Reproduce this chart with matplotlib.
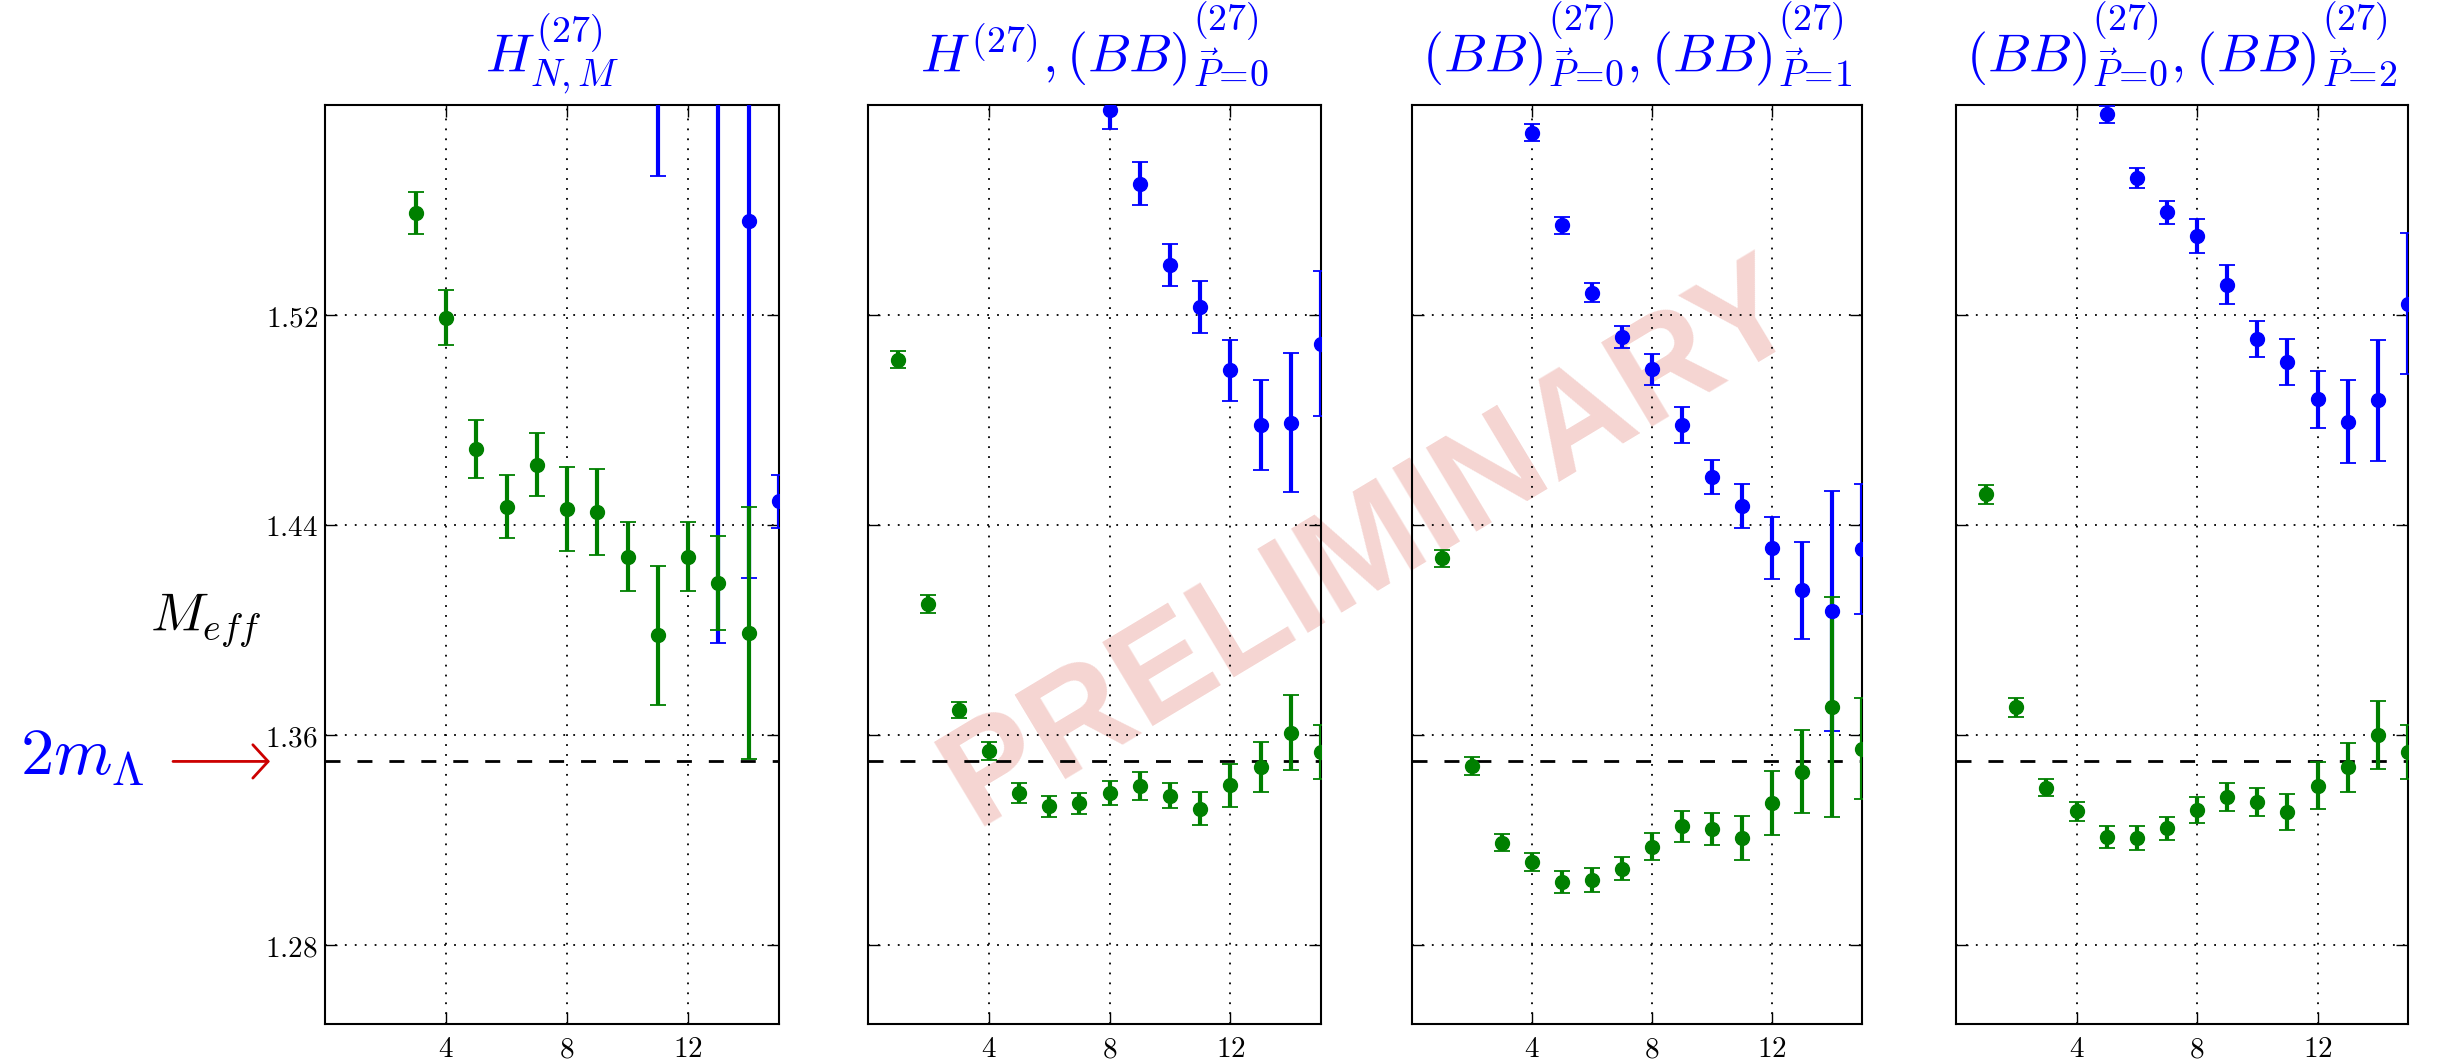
import numpy as np
import matplotlib
matplotlib.use('Agg')
import matplotlib.pyplot as plt
from matplotlib.ticker import FuncFormatter

plt.rcParams['mathtext.fontset'] = 'cm'

# ---------------- data ----------------
M2L = 1.35  # 2 m_Lambda

titles = [r'$H^{(27)}_{N,M}$',
          r'$H^{(27)}, (BB)^{(27)}_{\vec{P}\!=\!0}$',
          r'$(BB)^{(27)}_{\vec{P}\!=\!0}, (BB)^{(27)}_{\vec{P}\!=\!1}$',
          r'$(BB)^{(27)}_{\vec{P}\!=\!0}, (BB)^{(27)}_{\vec{P}\!=\!2}$']

xticks = [4, 8, 12]
yticks = [1.28, 1.36, 1.44, 1.52]

# panel 1
g1_t = [3, 4, 5, 6, 7, 8, 9, 10, 11, 12, 13, 14]
g1_y = [1.559, 1.519, 1.469, 1.447, 1.463, 1.446, 1.445, 1.428, 1.398, 1.428, 1.418, 1.399]
g1_e = [0.008, 0.0105, 0.011, 0.012, 0.012, 0.016, 0.0165, 0.013, 0.0265, 0.013, 0.018, 0.048]
b1_t = [11, 13, 14, 15]
b1_y = [1.66, 1.68, 1.556, 1.449]
b1_e = [0.087, 0.285, 0.136, 0.010]

# panel 2
g2_t = [1, 2, 3, 4, 5, 6, 7, 8, 9, 10, 11, 12, 13, 14, 15]
g2_y = [1.503, 1.410, 1.3695, 1.354, 1.338, 1.333, 1.334, 1.338, 1.3405, 1.337, 1.332, 1.341, 1.348, 1.361, 1.3535]
g2_e = [0.0033, 0.0035, 0.0031, 0.0035, 0.0039, 0.004, 0.004, 0.0046, 0.0053, 0.0049, 0.0064, 0.0082, 0.0095, 0.0144, 0.0103]
b2_t = [8, 9, 10, 11, 12, 13, 14, 15]
b2_y = [1.598, 1.570, 1.539, 1.523, 1.499, 1.478, 1.479, 1.509]
b2_e = [0.0072, 0.0082, 0.008, 0.0099, 0.0116, 0.0171, 0.0265, 0.0276]

# panel 3
g3_t = [1, 2, 3, 4, 5, 6, 7, 8, 9, 10, 11, 12, 13, 14, 15]
g3_y = [1.4274, 1.3482, 1.3191, 1.3117, 1.304, 1.3047, 1.3091, 1.3176, 1.3253, 1.3243, 1.3209, 1.3343, 1.3461, 1.3708, 1.3549]
g3_e = [0.0032, 0.0035, 0.0032, 0.0035, 0.0042, 0.0046, 0.0044, 0.0053, 0.0058, 0.006, 0.0084, 0.0122, 0.0158, 0.042, 0.0193]
b3_t = [4, 5, 6, 7, 8, 9, 10, 11, 12, 13, 14, 15]
b3_y = [1.5894, 1.5542, 1.5285, 1.5115, 1.4994, 1.4781, 1.4583, 1.4472, 1.4313, 1.4151, 1.4073, 1.4308]
b3_e = [0.0032, 0.0032, 0.0036, 0.0042, 0.0059, 0.0068, 0.0064, 0.0084, 0.0117, 0.0183, 0.0458, 0.0248]

# panel 4
g4_t = [1, 2, 3, 4, 5, 6, 7, 8, 9, 10, 11, 12, 13, 14, 15]
g4_y = [1.4518, 1.3706, 1.340, 1.331, 1.3212, 1.3207, 1.3245, 1.3315, 1.3366, 1.3346, 1.3307, 1.3407, 1.3477, 1.360, 1.3536]
g4_e = [0.0036, 0.0036, 0.0033, 0.0036, 0.0041, 0.0046, 0.0044, 0.0048, 0.0053, 0.0053, 0.0069, 0.009, 0.0093, 0.013, 0.0102]
b4_t = [5, 6, 7, 8, 9, 10, 11, 12, 13, 14, 15]
b4_y = [1.5964, 1.5722, 1.5591, 1.5501, 1.5316, 1.511, 1.502, 1.4879, 1.4794, 1.4876, 1.5244]
b4_e = [0.0031, 0.0037, 0.0044, 0.0063, 0.0073, 0.0068, 0.0087, 0.0108, 0.0157, 0.023, 0.0269]

panels = [
    (g1_t, g1_y, g1_e, b1_t, b1_y, b1_e),
    (g2_t, g2_y, g2_e, b2_t, b2_y, b2_e),
    (g3_t, g3_y, g3_e, b3_t, b3_y, b3_e),
    (g4_t, g4_y, g4_e, b4_t, b4_y, b4_e),
]

# ---------------- layout ----------------
W, H = 2446, 1060
fig = plt.figure(figsize=(W / 100, H / 100), dpi=100)
fig.patch.set_facecolor('white')

lefts = [325, 868, 1412, 1956]
widths = [454, 453, 450, 452]
top_px, bot_px = 105, 1024

GREEN = '#008000'
BLUE = '#0000ff'

axes = []
for i, (gt, gy, ge, bt, by, be) in enumerate(panels):
    rect = (lefts[i] / W, 1 - bot_px / H, widths[i] / W, (bot_px - top_px) / H)
    ax = fig.add_axes(rect)
    ax.set_facecolor('none')
    ekw = dict(fmt='o', ms=10, elinewidth=3, capsize=5.8, capthick=1.3, zorder=3)
    ax.errorbar(bt, by, yerr=be, color=BLUE, mfc=BLUE, mec=BLUE, ecolor=BLUE, **ekw)
    ax.errorbar(gt, gy, yerr=ge, color=GREEN, mfc=GREEN, mec=GREEN, ecolor=GREEN, **ekw)
    ax.axhline(M2L, color='k', linestyle=(0, (5.4, 6.1)), lw=2, zorder=2)
    ax.set_xlim(0, 15)
    ax.set_ylim(1.25, 1.60)
    ax.set_xticks(xticks)
    ax.set_yticks(yticks)
    ax.grid(True, color='k', linestyle=(0, (1, 4.5)), lw=1.3, zorder=1)
    ax.set_axisbelow(True)
    ax.tick_params(direction='in', length=8.6, width=1, top=True, right=True,
                   labelsize=21)
    ax.tick_params(axis='x', pad=8)
    ax.tick_params(axis='y', pad=5)
    ax.xaxis.set_major_formatter(FuncFormatter(lambda v, p: r'$%d$' % int(round(v))))
    if i == 0:
        ax.yaxis.set_major_formatter(FuncFormatter(lambda v, p: r'$%.2f$' % v))
    else:
        ax.tick_params(axis='y', labelleft=False)
    for s in ax.spines.values():
        s.set_linewidth(1.5)
    ax.text(0.5, 1 + 33 / (bot_px - top_px), titles[i], transform=ax.transAxes,
            ha='center', va='baseline', fontsize=39, color=BLUE)
    axes.append(ax)

ax1 = axes[0]
fig.text(206 / W, 1 - 630 / H, r'$M_{eff}$', fontsize=39, ha='center', va='baseline')
fig.text(20 / W, 1 - 775 / H, r'$2m_{\Lambda}$', fontsize=48, color=BLUE,
         ha='left', va='baseline')
ax1.annotate('', xy=((270 - 325) / 454, M2L), xycoords=('axes fraction', 'data'),
             xytext=((173 - 325) / 454, M2L), textcoords=('axes fraction', 'data'),
             annotation_clip=False,
             arrowprops=dict(arrowstyle='->,head_length=11,head_width=12',
                             mutation_scale=1, color='#cc0000', lw=2,
                             shrinkA=0, shrinkB=0))

fig.text(1372 / W, 1 - 545 / H, 'PRELIMINARY', rotation=31, fontsize=102,
         fontweight='bold', family='Liberation Sans', color='#cc2a1a', alpha=0.2,
         ha='center', va='center', zorder=-5)

fig.savefig('out.png', dpi=100, facecolor='white')
